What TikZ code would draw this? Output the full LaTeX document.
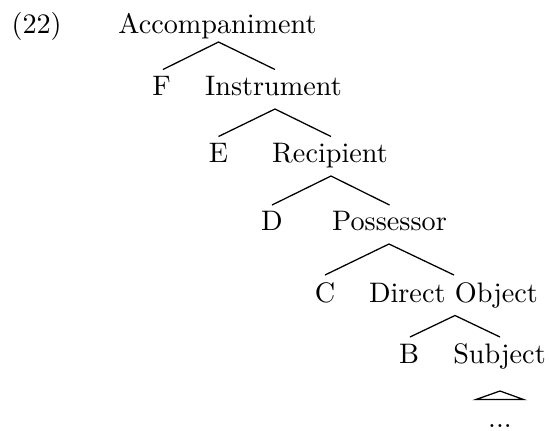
\documentclass[tikz,border=0pt]{standalone}
\begin{document}
\begin{tikzpicture}[x=0.3546pt,y=-0.3546pt,
  lbl/.style={anchor=base,inner sep=0pt,font=\fontsize{10}{12}\selectfont},
  edge/.style={line width=0.45pt}]
\useasboundingbox (0,0) rectangle (549,430);
\node[lbl,anchor=base west] (ex) at (11,33) {(22)};
\node[lbl] (acc) at (217.5,33) {Accompaniment};
\node[lbl] (f) at (161.5,95) {F};
\node[lbl] (ins) at (273.5,95) {Instrument};
\node[lbl] (e) at (218.5,162) {E};
\node[lbl] (rec) at (330,162) {Recipient};
\node[lbl] (d) at (272,230) {D};
\node[lbl] (pos) at (389.5,230) {Possessor};
\node[lbl] (c) at (325,302) {C};
\node[lbl] (dob) at (453.5,302) {Direct Object};
\node[lbl] (b) at (409,363) {B};
\node[lbl] (sub) at (499.5,363) {Subject};
\node[lbl] (dots) at (500,427) {...};
% edge end points
\coordinate (acc-b) at (218.5,42);
\coordinate (f-t) at (163,69.5);
\coordinate (ins-t) at (275,69.5);
\coordinate (ins-b) at (275,109);
\coordinate (e-t) at (218.5,136.5);
\coordinate (rec-t) at (331,136.5);
\coordinate (rec-b) at (331,176);
\coordinate (d-t) at (272,205);
\coordinate (pos-t) at (389.5,205);
\coordinate (pos-b) at (389,244);
\coordinate (c-t) at (325,275);
\coordinate (dob-t) at (454,275);
\coordinate (dob-b) at (455,315.5);
\coordinate (b-t) at (410,337);
\coordinate (sub-t) at (500,337);
\coordinate (tri-a) at (500,391);
\coordinate (tri-l) at (476,399.5);
\coordinate (tri-r) at (523.5,399.5);
\draw[edge] (f-t) -- (acc-b) -- (ins-t);
\draw[edge] (e-t) -- (ins-b) -- (rec-t);
\draw[edge] (d-t) -- (rec-b) -- (pos-t);
\draw[edge] (c-t) -- (pos-b) -- (dob-t);
\draw[edge] (b-t) -- (dob-b) -- (sub-t);
\draw[edge] (tri-a) -- (tri-l) -- (tri-r) -- cycle;
\end{tikzpicture}
\end{document}
